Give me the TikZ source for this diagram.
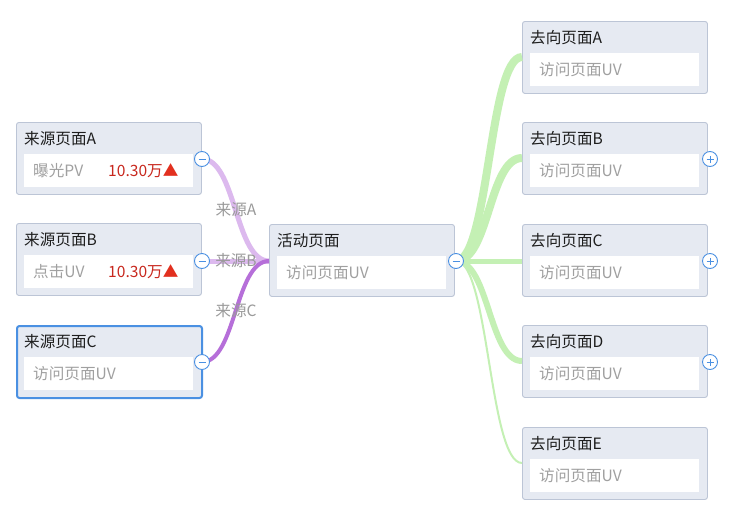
\documentclass[tikz,border=0pt]{standalone}
\usepackage{fontspec}
\setmainfont{Noto Sans CJK SC}
\usetikzlibrary{calc}
\definecolor{boxfill}{HTML}{E6EAF2}
\definecolor{boxline}{HTML}{BCC5D6}
\definecolor{selblue}{HTML}{4A90E2}
\definecolor{subgray}{HTML}{A0A0A0}
\definecolor{lblgray}{HTML}{9A9A9A}
\definecolor{valred}{HTML}{C8281E}
\definecolor{trired}{HTML}{E2301F}
\definecolor{purlight}{HTML}{DCB9EE}
\definecolor{purdark}{HTML}{B66FD9}
\definecolor{grn}{HTML}{C4F0B4}
\definecolor{titleblack}{HTML}{1E1E1E}
\tikzset{
  outerbox/.style={draw=boxline, fill=boxfill, rounded corners=2.5pt, line width=0.9pt,
    minimum width=185pt, minimum height=72pt, inner sep=0pt, anchor=north west},
  innerbox/.style={fill=white, draw=none, minimum width=169pt, minimum height=33pt,
    inner sep=0pt, anchor=north west},
  titletext/.style={font=\fontsize{15.6}{18}\selectfont, text=titleblack, inner sep=0pt, anchor=west},
  subtext/.style={font=\fontsize{15.6}{18}\selectfont, text=subgray, inner sep=0pt, anchor=west},
  valtext/.style={font=\fontsize{15.6}{18}\selectfont, text=valred, inner sep=0pt, anchor=west},
  edgelbl/.style={font=\fontsize{15.6}{18}\selectfont, text=lblgray, inner sep=0pt},
  toggle/.style={circle, draw=selblue, fill=white, line width=0.9pt, minimum size=15pt, inner sep=0pt},
  minustoggle/.style={toggle, path picture={\draw[selblue, line width=0.9pt]
      ([xshift=-3.5pt]path picture bounding box.center) -- ([xshift=3.5pt]path picture bounding box.center);}},
  plustoggle/.style={toggle, path picture={\draw[selblue, line width=0.9pt]
      ([xshift=-3.5pt]path picture bounding box.center) -- ([xshift=3.5pt]path picture bounding box.center)
      ([yshift=-3.5pt]path picture bounding box.center) -- ([yshift=3.5pt]path picture bounding box.center);}},
}
\newcommand\mmbox[6][]{%
  \node[outerbox,#1] (#2) at (#3,#4) {};
  \node[innerbox] (#2-in) at ($(#2.north west)+(8,32)$) {};
  \node[titletext] (#2-t) at ($(#2.north west)+(8,17)$) {#5};
  \node[subtext] (#2-s) at ($(#2-in.west)+(9,0)$) {#6};
}
\begin{document}
\begin{tikzpicture}[x=1pt, y=-1pt]
\useasboundingbox[fill=white] (0,0) rectangle (733,509);

% boxes
\mmbox{srcA}{16}{122}{来源页面A}{曝光PV}
\node[valtext] (srcA-v) at (108,170.5) {10.30万\textcolor{trired}{▲}};
\mmbox{srcB}{16}{223}{来源页面B}{点击UV}
\node[valtext] (srcB-v) at (108,271.5) {10.30万\textcolor{trired}{▲}};
\mmbox[draw=selblue, line width=2pt]{srcC}{16}{325}{来源页面C}{访问页面UV}
\mmbox{act}{269}{224}{活动页面}{访问页面UV}
\mmbox{tgA}{522}{21}{去向页面A}{访问页面UV}
\mmbox{tgB}{522}{122}{去向页面B}{访问页面UV}
\mmbox{tgC}{522}{224}{去向页面C}{访问页面UV}
\mmbox{tgD}{522}{325}{去向页面D}{访问页面UV}
\mmbox{tgE}{522}{427}{去向页面E}{访问页面UV}

% toggle positions
\coordinate (cA) at (202,159);
\coordinate (cB) at (202,261);
\coordinate (cC) at (202,362);
\coordinate (cAct) at (456,261);
\coordinate (actin) at (269,261);

% source edges
\draw[purlight, line width=5pt] (cA) .. controls +(34,0) and +(-34,0) .. (actin);
\draw[purlight, line width=5pt] (cB) -- (actin);
\draw[purdark, line width=4pt] (cC) .. controls +(34,0) and +(-34,0) .. (actin);

% target edges
\draw[grn, line width=8pt] (cAct) .. controls +(33,0) and +(-33,0) .. ($(tgA.north west)+(0,36)$);
\draw[grn, line width=8pt] (cAct) .. controls +(33,0) and +(-33,0) .. ($(tgB.north west)+(0,36)$);
\draw[grn, line width=5pt] (cAct) -- ($(tgC.north west)+(0,37)$);
\draw[grn, line width=6pt] (cAct) .. controls +(33,0) and +(-33,0) .. ($(tgD.north west)+(0,36)$);
\draw[grn, line width=2pt] (cAct) .. controls +(33,0) and +(-33,0) .. ($(tgE.north west)+(0,36)$);

% toggles
\node[minustoggle] (tA) at (cA) {};
\node[minustoggle] (tB) at (cB) {};
\node[minustoggle] (tC) at (cC) {};
\node[minustoggle] (tAct) at (cAct) {};
\node[plustoggle] (tgB-tog) at (710,159) {};
\node[plustoggle] (tgC-tog) at (710,261) {};
\node[plustoggle] (tgD-tog) at (710,362) {};

% edge labels
\node[edgelbl] (lA) at (236,210) {来源A};
\node[edgelbl] (lB) at (236,261) {来源B};
\node[edgelbl] (lC) at (236,311) {来源C};
\end{tikzpicture}
\end{document}
